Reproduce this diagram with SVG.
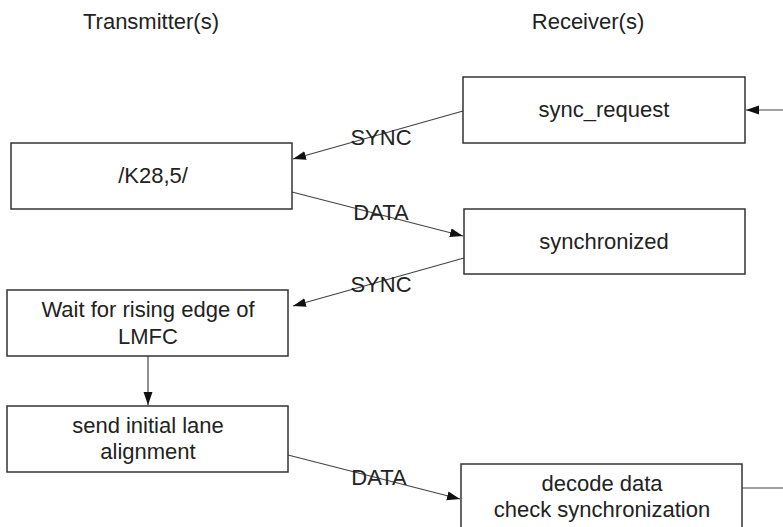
<svg xmlns="http://www.w3.org/2000/svg" width="783" height="527" viewBox="0 0 783 527">
<style>
text{font-family:"Liberation Sans",Arial,sans-serif;font-size:22px;fill:#222;text-anchor:middle}
.box{fill:#fff;stroke:#333;stroke-width:1.5}
.c{fill:none;stroke:#444;stroke-width:1.2}
</style>
<defs>
<marker id="ah" markerUnits="userSpaceOnUse" markerWidth="14" markerHeight="10" refX="13" refY="4.5" orient="auto">
<path d="M0,0 L13,4.5 L0,9 z" fill="#111"/>
</marker>
</defs>
<g id="headers">
<text x="151" y="29">Transmitter(s)</text>
<text x="588" y="29">Receiver(s)</text>
</g>
<g id="connectors">
<line class="c" x1="783" y1="110" x2="746" y2="110" marker-end="url(#ah)"/>
<line class="c" x1="463" y1="111" x2="293" y2="159" marker-end="url(#ah)"/>
<line class="c" x1="292" y1="192" x2="463" y2="236" marker-end="url(#ah)"/>
<line class="c" x1="464" y1="258" x2="293" y2="306" marker-end="url(#ah)"/>
<line class="c" x1="148" y1="356" x2="148" y2="405" marker-end="url(#ah)"/>
<line class="c" x1="288" y1="455" x2="460" y2="499" marker-end="url(#ah)"/>
<line class="c" x1="742" y1="488" x2="783" y2="488"/>
<text x="381" y="145">SYNC</text>
<text x="381" y="220">DATA</text>
<text x="381" y="292">SYNC</text>
<text x="379" y="485">DATA</text>
</g>
<g id="sync_request">
<rect class="box" x="463" y="77" width="282" height="66"/>
<text x="604" y="117">sync_request</text>
</g>
<g id="k28">
<rect class="box" x="11" y="143" width="281" height="66"/>
<text x="153" y="183">/K28,5/</text>
</g>
<g id="synchronized">
<rect class="box" x="464" y="209" width="281" height="65"/>
<text x="604" y="249">synchronized</text>
</g>
<g id="wait">
<rect class="box" x="7" y="290" width="281" height="66"/>
<text x="148" y="317">Wait for rising edge of</text>
<text x="148" y="344">LMFC</text>
</g>
<g id="send">
<rect class="box" x="7" y="406" width="281" height="66"/>
<text x="148" y="433">send initial lane</text>
<text x="148" y="459">alignment</text>
</g>
<g id="decode">
<rect class="box" x="461" y="464" width="281" height="70"/>
<text x="602" y="491">decode data</text>
<text x="602" y="517">check synchronization</text>
</g>
</svg>
